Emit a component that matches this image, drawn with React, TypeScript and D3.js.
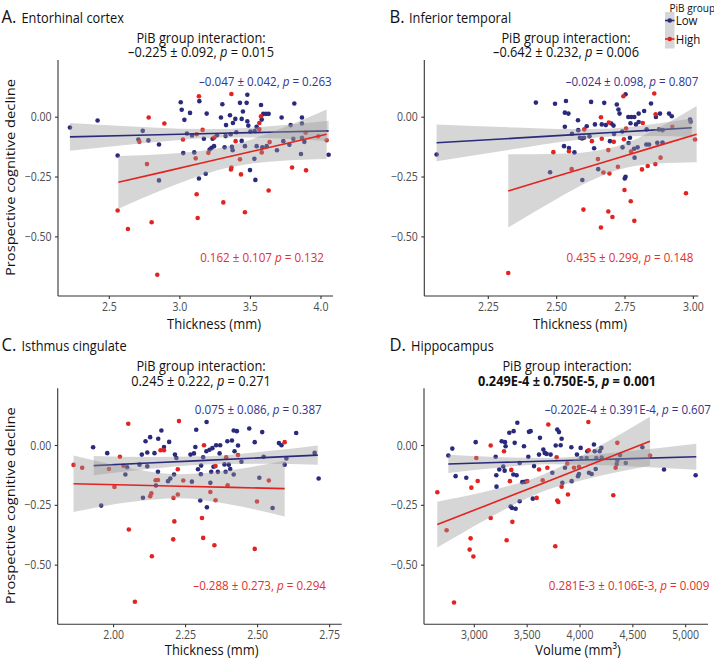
import React from "react";
import * as d3 from "d3";

type Pt = [number, number];
type FitRow = [number, number, number, number]; // x, lower CI, fitted, upper CI

// ---------------- data ----------------
const entorhinalLow: Pt[] = [
  [2.221, -0.043], [2.417, -0.014], [2.559, -0.16], [2.852, -0.114], [3.006, 0.0625], [3.013, 0.031],
  [3.032, -0.011], [3.072, 0.018], [3.138, 0.067], [3.19, 0.015], [3.301, 0.054], [3.291, -0.001],
  [3.327, -0.033], [3.355, 0.008], [3.376, -0.024], [3.393, -0.007], [3.426, 0.06], [3.438, -0.007],
  [3.447, 0.024], [3.478, 0.094], [3.473, 0.06], [3.478, -0.017], [3.485, -0.035], [3.575, 0.051],
  [3.591, 0.014], [3.61, 0.014], [3.629, 0.014], [3.58, -0.01], [3.544, -0.04], [3.721, -0.001],
  [3.811, 0.057], [3.865, -0.001], [3.865, -0.026], [4.054, -0.157], [3.497, -0.221], [3.535, -0.262],
  [3.135, -0.256], [3.225, -0.128], [3.211, -0.135], [3.242, -0.121], [3.263, -0.075],
  [2.706, -0.093], [2.737, -0.057], [2.777, -0.097], [2.852, -0.264], [3.05, -0.068], [3.086, -0.076],
  [3.024, -0.15], [3.102, -0.147], [3.183, -0.236], [3.17, -0.09], [3.232, -0.09], [3.317, -0.126],
  [3.369, -0.124], [3.374, -0.138], [3.438, -0.099], [3.461, -0.121], [3.528, -0.174], [3.544, -0.121],
  [3.584, -0.126], [3.615, -0.121], [3.688, -0.138], [3.733, -0.1], [3.776, -0.115], [3.785, -0.033],
  [3.804, -0.09], [3.858, -0.154], [3.865, -0.086], [3.882, -0.103], [3.5, -0.06], [3.53, -0.058],
  [3.324, -0.079], [3.36, -0.071], [3.4, -0.063],
];
const entorhinalHigh: Pt[] = [
  [3.135, 0.0875], [3.365, 0.097], [2.779, -0.001], [2.89, -0.026], [3.575, 0.004], [3.563, -0.024],
  [3.395, -0.1], [3.161, -0.053], [3.362, -0.218], [3.433, -0.239], [3.119, -0.322], [3.795, -0.21],
  [3.894, -0.222], [3.629, -0.306], [3.308, -0.356], [3.461, -0.397], [3.126, -0.421], [2.559, -0.39],
  [2.8, -0.439], [2.632, -0.467], [2.84, -0.658],
  [2.713, -0.103], [2.767, -0.196], [3.022, -0.093], [3.112, -0.172], [3.119, -0.071], [3.202, -0.149],
  [3.244, -0.085], [3.365, -0.21], [3.426, -0.176], [3.563, -0.051], [3.58, -0.147], [3.636, -0.104],
  [3.891, -0.065], [4.04, -0.096], [3.98, -0.08],
];
const infTemporalLow: Pt[] = [
  [2.061, -0.156], [2.424, 0.061], [2.494, 0.056], [2.534, 0.068], [2.53, 0.019], [2.543, 0.015],
  [2.53, -0.04], [2.578, -0.0125], [2.626, 0.064], [2.674, 0.06], [2.72, 0.053], [2.726, 0.032],
  [2.73, 0.015], [2.752, 0.096], [2.762, 0.001], [2.773, 0.001], [2.784, 0.001], [2.8, 0.015],
  [2.82, 0.026], [2.845, 0.057], [2.863, 0.001], [2.878, 0.015], [2.911, 0.015], [2.921, 0.004],
  [2.988, -0.01], [2.527, -0.121], [2.545, -0.129], [2.565, -0.147], [2.594, -0.2625], [2.637, -0.13],
  [2.695, -0.1], [2.749, -0.256], [2.752, -0.249], [2.61, -0.0375], [2.665, -0.03], [2.68, -0.033],
  [2.7, -0.026], [2.708, -0.035], [2.579, -0.054], [2.64, -0.03], [2.79, -0.03], [2.8, -0.02], [2.77, -0.025],
  [2.476, -0.23], [2.593, -0.089], [2.585, -0.086], [2.6, -0.086], [2.652, -0.217], [2.741, -0.126],
  [2.763, -0.108], [2.783, -0.132], [2.785, -0.169], [2.796, -0.126], [2.828, -0.114], [2.838, -0.114],
  [2.868, -0.107], [2.887, -0.106], [2.874, -0.051], [2.887, -0.054], [2.99, -0.019], [2.829, -0.051],
  [2.768, -0.086], [2.556, -0.069], [2.62, -0.08], [2.71, -0.07], [2.74, -0.06],
];
const infTemporalHigh: Pt[] = [
  [2.323, -0.651], [2.488, -0.146], [2.545, -0.142], [2.598, -0.386], [2.662, -0.461], [2.689, -0.394],
  [2.704, -0.417], [2.693, -0.235], [2.662, 0.0], [2.691, -0.022], [2.709, -0.103], [2.629, -0.1],
  [2.744, 0.0875], [2.857, 0.099], [2.862, 0.0125], [2.815, -0.024], [2.746, -0.092], [2.771, -0.351],
  [2.784, -0.433], [2.748, -0.304], [2.973, -0.318], [2.812, -0.218], [2.833, -0.204], [2.861, -0.196],
  [3.006, -0.093],
  [2.555, -0.217], [2.601, -0.051], [2.651, -0.175], [2.671, -0.231], [2.724, -0.207], [2.754, -0.047],
  [2.772, -0.144], [2.689, -0.1375], [2.88, -0.169], [2.923, -0.04], [2.665, -0.09],
];
const isthmusLow: Pt[] = [
  [1.929, -0.007], [1.978, -0.032], [1.957, -0.251], [2.098, -0.038], [2.117, -0.029], [2.111, 0.018],
  [2.127, 0.035], [2.142, -0.032], [2.155, 0.028], [2.166, 0.063], [2.175, -0.006], [2.193, 0.015],
  [2.213, -0.038], [2.218, -0.052], [2.267, -0.038], [2.279, -0.033], [2.284, -0.006], [2.287, 0.066],
  [2.323, 0.098], [2.301, -0.23], [2.324, -0.258], [2.322, -0.024], [2.333, -0.018], [2.343, -0.011],
  [2.356, 0.001], [2.37, 0.001], [2.368, -0.033], [2.395, 0.018], [2.411, 0.021], [2.417, 0.063],
  [2.428, 0.06], [2.432, 0.0], [2.42, -0.024], [2.471, 0.071], [2.516, 0.056], [2.49, 0.014],
  [2.574, 0.01], [2.583, 0.001], [2.634, 0.052], [2.698, -0.031], [2.712, -0.138],
  [2.385, -0.079], [2.389, -0.11], [2.405, -0.098], [2.417, -0.121], [2.4, -0.08], [2.304, -0.084],
  [2.311, -0.049], [2.293, -0.099], [2.303, -0.12], [2.339, -0.11], [2.347, -0.089], [2.336, -0.156],
  [2.362, -0.11], [2.189, -0.149], [2.197, -0.138], [2.21, -0.121], [2.154, -0.11], [2.147, -0.167],
  [2.102, -0.218], [2.272, -0.151], [2.047, -0.091], [2.041, -0.121], [2.09, -0.08], [2.117, -0.087],
  [2.506, -0.135], [2.552, -0.261], [2.594, -0.08], [2.6, -0.054], [2.521, -0.047], [2.444, -0.068],
];
const isthmusHigh: Pt[] = [
  [1.861, -0.081], [2.051, 0.091], [2.227, 0.102], [2.314, 0.001], [2.053, -0.351], [2.211, -0.317],
  [2.207, -0.392], [2.133, -0.463], [2.307, -0.303], [2.311, -0.386], [2.35, -0.417], [2.49, -0.432],
  [2.074, -0.653], [2.163, -0.02], [2.175, -0.02], [2.223, -0.099], [2.594, 0.014], [2.354, -0.086],
  [1.891, -0.093], [1.984, -0.098], [2.003, -0.173], [2.022, -0.047], [2.034, -0.085], [2.131, -0.2],
  [2.127, -0.212], [2.146, -0.145], [2.154, -0.144], [2.208, -0.219], [2.223, -0.205], [2.242, -0.146],
  [2.336, -0.194], [2.354, -0.229], [2.391, -0.049], [2.396, -0.166], [2.432, -0.04], [2.498, -0.234],
  [2.539, -0.146],
];
const hippocampusLow: Pt[] = [
  [2754, -0.042], [2792, -0.013], [2823, -0.128], [2924, -0.135], [3013, 0.014], [3202, -0.047],
  [3208, -0.124], [3210, -0.172], [3236, -0.1], [3259, 0.018], [3290, 0.014], [3296, -0.003],
  [3331, 0.053], [3372, 0.06], [3407, 0.095], [3382, 0.011], [3369, -0.121], [3400, -0.124],
  [3429, -0.073], [3454, -0.153], [3470, -0.003], [3517, 0.057], [3533, 0.06], [3511, -0.047],
  [3621, 0.032], [3612, -0.038], [3653, -0.017], [3666, -0.031], [3684, -0.035], [3722, -0.038],
  [3785, 0.067], [3801, 0.056], [3826, 0.028], [3817, 0.001], [3770, 0.0], [3918, -0.007],
  [3971, -0.038], [4006, -0.01], [4069, -0.024], [4132, 0.004], [4202, -0.01], [4186, -0.024],
  [4139, -0.024], [4795, -0.1], [5094, -0.124], [4590, -0.007], [3357, -0.261], [3391, -0.264],
  [3344, -0.255], [3429, -0.233], [3553, -0.222], [3287, -0.105],
  [3274, -0.088], [3479, -0.152], [3565, -0.086], [3738, -0.114], [3833, -0.156], [3921, -0.149],
  [3981, -0.128], [3990, -0.119], [4085, -0.114], [4110, -0.119], [4148, -0.098], [4154, -0.052],
  [4205, -0.05], [4063, -0.052], [4012, -0.052], [4347, -0.077], [4379, -0.04], [4433, -0.073],
  [4353, -0.063], [3858, -0.093],
];
const hippocampusHigh: Pt[] = [
  [2650, -0.195], [2808, -0.656], [2965, -0.388], [2956, -0.435], [2991, -0.464], [2972, -0.176],
  [3032, -0.148], [3155, 0.0], [3155, -0.303], [3281, -0.024], [3306, -0.396], [3360, -0.319],
  [3337, -0.149], [3350, -0.102], [3612, -0.1], [3700, 0.088], [3590, -0.219], [3766, -0.421],
  [3785, -0.23], [3795, -0.236], [3886, -0.205], [4315, -0.208], [4079, 0.098], [4082, -0.02],
  [2738, -0.354], [3019, -0.052], [3501, -0.149], [3647, -0.145], [3826, -0.172], [3779, -0.049],
  [3880, -0.075], [3943, -0.093], [3990, -0.089], [4353, 0.011], [4337, -0.093], [4662, -0.042],
  [3691, -0.093],
];

// linear fits with 95% CI band: [x, lower, fit, upper]
const entorhinalLowFit: FitRow[] = [
  [2.221, -0.14, -0.082, -0.024], [2.7, -0.111, -0.0755, -0.04], [3.0, -0.095, -0.0714, -0.0478],
  [3.3, -0.0853, -0.0673, -0.0493], [3.5, -0.0853, -0.0646, -0.0439], [3.7, -0.089, -0.0618, -0.0346],
  [4.054, -0.0995, -0.057, -0.0145],
];
const entorhinalHighFit: FitRow[] = [
  [2.564, -0.382, -0.272, -0.162], [2.9, -0.2983, -0.2262, -0.1541], [3.1, -0.2532, -0.199, -0.1448],
  [3.33, -0.2127, -0.1677, -0.1227], [3.5, -0.1947, -0.1445, -0.0943], [3.7, -0.1834, -0.1173, -0.0512],
  [4.04, -0.1744, -0.071, 0.0324],
];
const infTemporalLowFit: FitRow[] = [
  [2.061, -0.184, -0.107, -0.03], [2.35, -0.1319, -0.0875, -0.0431], [2.55, -0.0985, -0.074, -0.0495],
  [2.7, -0.0809, -0.0639, -0.0469], [2.85, -0.0783, -0.0538, -0.0293], [2.994, -0.0825, -0.044, -0.0055],
];
const infTemporalHighFit: FitRow[] = [
  [2.323, -0.461, -0.308, -0.155], [2.5, -0.3415, -0.2471, -0.1527], [2.62, -0.2677, -0.2058, -0.1439],
  [2.72, -0.2214, -0.1714, -0.1214], [2.87, -0.1938, -0.1198, -0.0458], [3.012, -0.1885, -0.071, 0.0465],
];
const isthmusLowFit: FitRow[] = [
  [1.931, -0.124, -0.084, -0.044], [2.12, -0.0985, -0.0733, -0.0481], [2.32, -0.079, -0.062, -0.045],
  [2.52, -0.0759, -0.0507, -0.0255], [2.709, -0.08, -0.04, 0.0],
];
const isthmusHighFit: FitRow[] = [
  [1.861, -0.278, -0.16, -0.042], [2.05, -0.2375, -0.1652, -0.0929], [2.23, -0.2201, -0.1701, -0.1201],
  [2.41, -0.2473, -0.175, -0.1027], [2.594, -0.2968, -0.18, -0.0632],
];
const hippocampusLowFit: FitRow[] = [
  [2754, -0.115, -0.077, -0.039], [3200, -0.0942, -0.0713, -0.0484], [3700, -0.0779, -0.0649, -0.0519],
  [4400, -0.0854, -0.056, -0.0266], [5100, -0.1014, -0.047, 0.0074],
];
const hippocampusHighFit: FitRow[] = [
  [2650, -0.4265, -0.3305, -0.2345], [3100, -0.3119, -0.2526, -0.1933], [3620, -0.1975, -0.1625, -0.1275],
  [4150, -0.1308, -0.0707, -0.0106], [4662, -0.0842, 0.018, 0.1202],
];

const yTicks = [0, -0.25, -0.5];
const entorhinalTicks = [2.5, 3.0, 3.5, 4.0];
const infTemporalTicks = [2.25, 2.5, 2.75, 3.0];
const isthmusTicks = [2.0, 2.25, 2.5, 2.75];
const hippocampusTicks = [3000, 3500, 4000, 4500, 5000];

const panelLetters = ["A.", "B.", "C.", "D."];
const panelNames = ["Entorhinal cortex", "Inferior temporal", "Isthmus cingulate", "Hippocampus"];
const interactionStats: [string, string][] = [
  ["\u20130.225 \u00b1 0.092, ", " = 0.015"],
  ["\u20130.642 \u00b1 0.232, ", " = 0.006"],
  ["0.245 \u00b1 0.222, ", " = 0.271"],
  ["0.249E-4 \u00b1 0.750E-5, ", " = 0.001"],
];
const lowStats: [string, string][] = [
  ["\u20130.047 \u00b1 0.042, ", " = 0.263"],
  ["\u20130.024 \u00b1 0.098, ", " = 0.807"],
  ["0.075 \u00b1 0.086, ", " = 0.387"],
  ["\u20130.202E-4 \u00b1 0.391E-4, ", " = 0.607"],
];
const highStats: [string, string][] = [
  ["0.162 \u00b1 0.107 ", " = 0.132"],
  ["0.435 \u00b1 0.299, ", " = 0.148"],
  ["\u20130.288 \u00b1 0.273, ", " = 0.294"],
  ["0.281E-3 \u00b1 0.106E-3, ", " = 0.009"],
];
const xTitles = ["Thickness (mm)", "Thickness (mm)", "Thickness (mm)", "Volume (mm\u00b3)"];
const yTitle = "Prospective cognitive decline";
const legendTitle = "PiB group";
const legendLabels = ["Low", "High"];

// ---------------- styling / layout ----------------
const FONT = "'Open Sans', 'Noto Sans', sans-serif";
const SX = 0.9; // horizontal glyph compression seen in the reference
const LOW_COLOR = "#2a2a7c";
const HIGH_COLOR = "#e3231f";
const Y_DOMAIN: [number, number] = [-0.747, 0.239];
const PANEL_H = 236;

const panels = [
  { low: entorhinalLow, high: entorhinalHigh, lowFit: entorhinalLowFit, highFit: entorhinalHighFit, ticks: entorhinalTicks,
    fmt: ".1f", left: 58, right: 333, top: 60, xDomain: [2.1365, 4.085], letterX: 1.5, nameX: 21.5, subX: 201,
    lowRight: 331.7, highRight: 324, xTitleX: 214, xTitleY: 328.5, showY: true, boldSub: false },
  { low: infTemporalLow, high: infTemporalHigh, lowFit: infTemporalLowFit, highFit: infTemporalHighFit, ticks: infTemporalTicks,
    fmt: ".2f", left: 424.3, right: 698.3, top: 60, xDomain: [2.016, 3.018], letterX: 389.5, nameX: 409, subX: 566,
    lowRight: 698.3, highRight: 693.3, xTitleX: 580, xTitleY: 328.5, showY: false, boldSub: false },
  { low: isthmusLow, high: isthmusHigh, lowFit: isthmusLowFit, highFit: isthmusHighFit, ticks: isthmusTicks,
    fmt: ".2f", left: 57.7, right: 341.7, top: 388.3, xDomain: [1.806, 2.792], letterX: 1.5, nameX: 21.5, subX: 201,
    lowRight: 321.7, highRight: 326, xTitleX: 211.7, xTitleY: 654.5, showY: true, boldSub: false },
  { low: hippocampusLow, high: hippocampusHigh, lowFit: hippocampusLowFit, highFit: hippocampusHighFit, ticks: hippocampusTicks,
    fmt: ",", left: 424, right: 708, top: 388.3, xDomain: [2524, 5211], letterX: 389.5, nameX: 411, subX: 567,
    lowRight: 711, highRight: 709.3, xTitleX: 578, xTitleY: 654.5, showY: false, boldSub: true },
];

function yFmt(v: number) {
  if (v === 0) return "0.00";
  return "\u2212" + Math.abs(v).toFixed(2);
}

// text drawn with the reference's slight horizontal compression
function T({ x, y, size, anchor = "start", fill = "#111", weight = 400, children }: any) {
  return (
    <text
      transform={`translate(${x},${y}) scale(${SX},1)`}
      fontSize={size}
      textAnchor={anchor}
      fill={fill}
      fontWeight={weight}
    >
      {children}
    </text>
  );
}

function Stat({ x, y, parts, color, size, anchor, bold }: any) {
  return (
    <T x={x} y={y} size={size} anchor={anchor} fill={color} weight={bold ? 700 : 400}>
      {parts[0]}
      <tspan fontStyle="italic">p</tspan>
      {parts[1]}
    </T>
  );
}

function Panel({ i }: { i: number }) {
  const P = panels[i];
  const bottom = P.top + PANEL_H;
  const x = d3.scaleLinear().domain(P.xDomain).range([P.left, P.right]);
  const y = d3.scaleLinear().domain(Y_DOMAIN).range([bottom, P.top]);
  const area = d3.area<FitRow>().x((d) => x(d[0])).y0((d) => y(d[1])).y1((d) => y(d[3])).curve(d3.curveMonotoneX);
  const line = d3.line<FitRow>().x((d) => x(d[0])).y((d) => y(d[2]));
  const fmt = d3.format(P.fmt);
  const R = 2.3;
  return (
    <g>
      {/* panel heading */}
      <T x={P.letterX} y={P.top - 37} size={18.5}>{panelLetters[i]}</T>
      <T x={P.nameX} y={P.top - 37} size={14.2}>{panelNames[i]}</T>
      <T x={P.subX} y={P.top - 17.3} size={14.2} anchor="middle">PiB group interaction:</T>
      <Stat x={P.subX} y={P.top - 2.7} parts={interactionStats[i]} color="#111" size={14.2} anchor="middle" bold={P.boldSub} />

      {/* points */}
      <g>
        {P.low.map((d, k) => (
          <circle key={"l" + k} cx={x(d[0])} cy={y(d[1])} r={R} fill={LOW_COLOR} />
        ))}
        {P.high.map((d, k) => (
          <circle key={"h" + k} cx={x(d[0])} cy={y(d[1])} r={R} fill={HIGH_COLOR} />
        ))}
      </g>
      {/* smooths */}
      <path d={area(P.lowFit) || ""} fill="#999999" fillOpacity={0.4} />
      <path d={line(P.lowFit) || ""} fill="none" stroke={LOW_COLOR} strokeWidth={1.6} />
      <path d={area(P.highFit) || ""} fill="#999999" fillOpacity={0.4} />
      <path d={line(P.highFit) || ""} fill="none" stroke={HIGH_COLOR} strokeWidth={1.6} />

      {/* annotations */}
      <Stat x={P.lowRight} y={P.top + 26} parts={lowStats[i]} color="#33358f" size={12.9} anchor="end" />
      <Stat x={P.highRight} y={P.top + 201.5} parts={highStats[i]} color="#e2302c" size={12.9} anchor="end" />

      {/* axes */}
      <line x1={P.left} x2={P.left} y1={P.top} y2={bottom} stroke="#333" strokeWidth={1.1} />
      <line x1={P.left} x2={P.right} y1={bottom} y2={bottom} stroke="#333" strokeWidth={1.1} />
      {yTicks.map((t) => (
        <g key={"y" + t}>
          <line x1={P.left - 3} x2={P.left} y1={y(t)} y2={y(t)} stroke="#333" strokeWidth={1.1} />
          <T x={P.left - 6.5} y={y(t) + 4.1} size={11.7} anchor="end" fill="#4d4d4d">{yFmt(t)}</T>
        </g>
      ))}
      {P.ticks.map((t) => (
        <g key={"x" + t}>
          <line x1={x(t)} x2={x(t)} y1={bottom} y2={bottom + 3} stroke="#333" strokeWidth={1.1} />
          <T x={x(t)} y={bottom + 14.5} size={11.7} anchor="middle" fill="#4d4d4d">{fmt(t)}</T>
        </g>
      ))}
      <T x={P.xTitleX} y={P.xTitleY} size={14.4} anchor="middle">{xTitles[i]}</T>
      {P.showY && (
        <text
          transform={`translate(14.6,${P.top + 117.5}) rotate(-90) scale(1,${SX})`}
          fontSize={14.7}
          textAnchor="middle"
          fill="#111"
        >
          {yTitle}
        </text>
      )}
    </g>
  );
}

function Legend() {
  const keyX = 665;
  const keyW = 9.5;
  const keyYs = [20.5, 39];
  const colors = [LOW_COLOR, HIGH_COLOR];
  return (
    <g>
      <T x={669.5} y={11.8} size={11.2}>{legendTitle}</T>
      <rect x={keyX} y={12} width={keyW} height={36.5} fill="#999999" fillOpacity={0.4} />
      {legendLabels.map((lab, k) => (
        <g key={lab}>
          <line x1={keyX} x2={keyX + keyW} y1={keyYs[k]} y2={keyYs[k]} stroke={colors[k]} strokeWidth={1.6} />
          <circle cx={keyX + keyW / 2} cy={keyYs[k]} r={2.3} fill={colors[k]} />
          <T x={675.7} y={keyYs[k] + 4.5} size={12.8}>{lab}</T>
        </g>
      ))}
    </g>
  );
}

export default function App() {
  return (
    <div style={{ position: "absolute", left: 0, top: 0 }}>
      <svg width={714} height={658} style={{ display: "block", background: "#fff" }} fontFamily={FONT}>
        <rect width={714} height={658} fill="#fff" />
        {panels.map((_, i) => (
          <Panel key={i} i={i} />
        ))}
        <Legend />
      </svg>
    </div>
  );
}
